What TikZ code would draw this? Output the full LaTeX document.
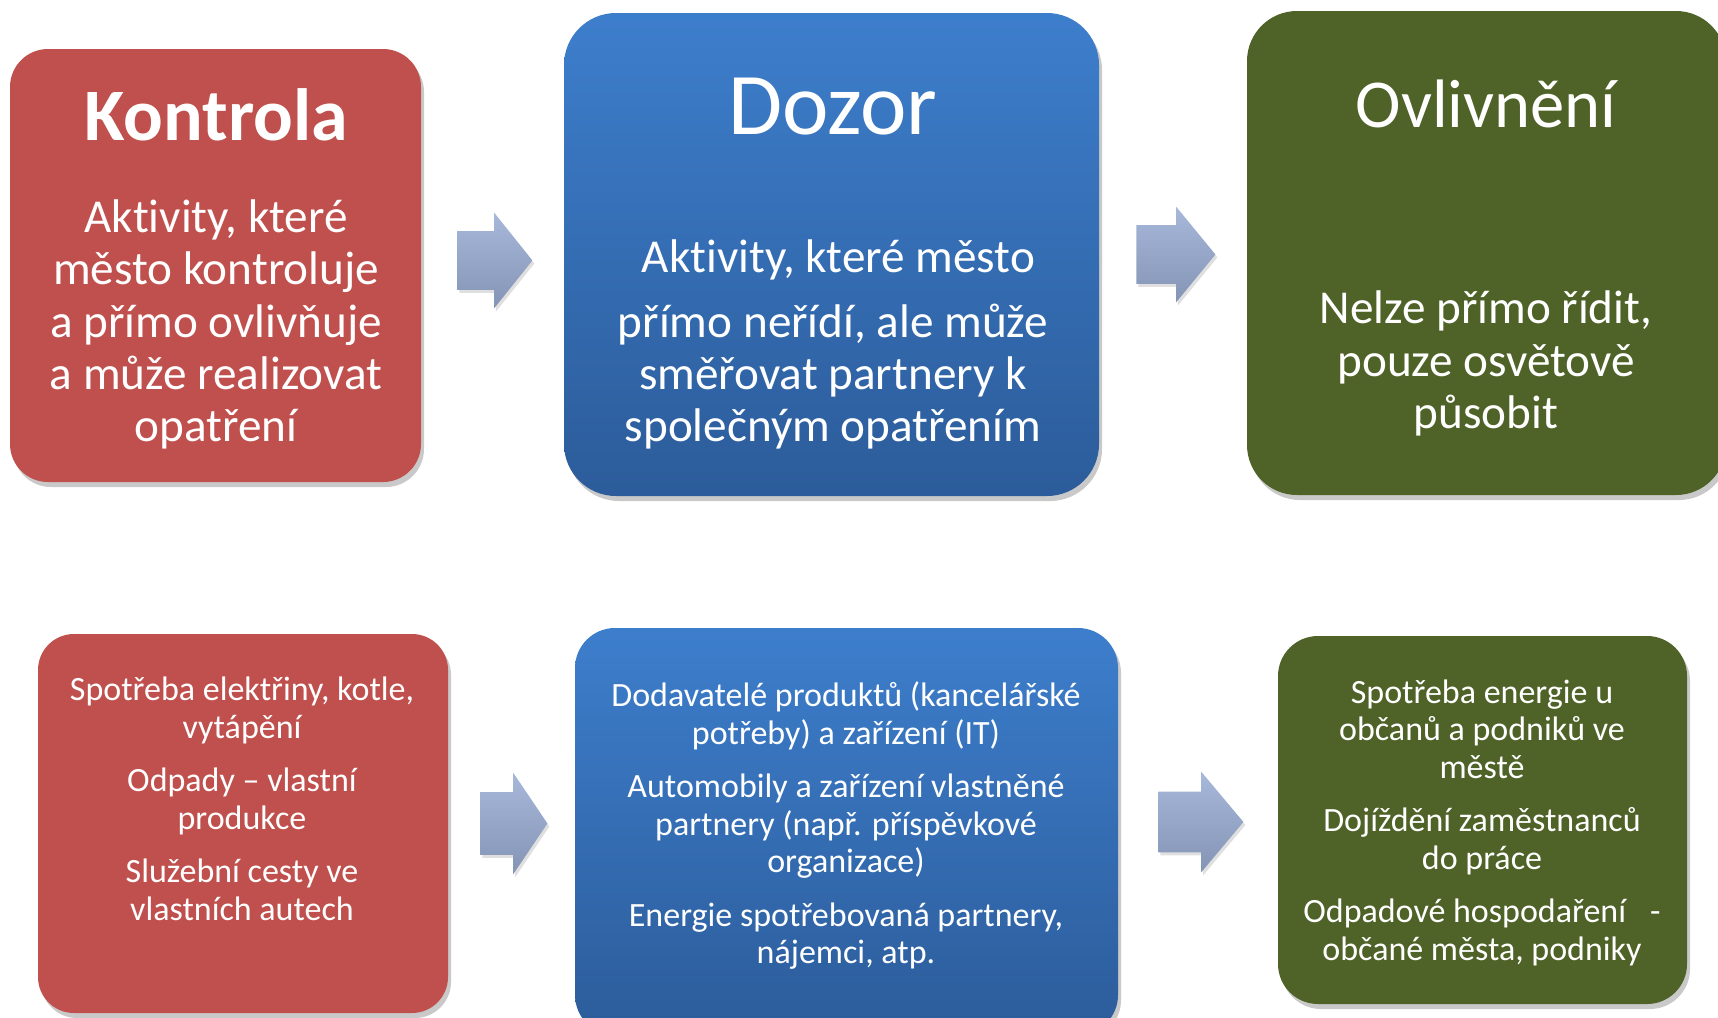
\documentclass[tikz,border=0pt]{standalone}
\usepackage{fontspec}
\setmainfont{Carlito}[Ligatures=NoCommon]
\usetikzlibrary{shapes.arrows,shadows}
\definecolor{boxred}{HTML}{C0504D}
\definecolor{boxgreen}{HTML}{4F6228}
\definecolor{bluetop}{HTML}{3D7ECC}
\definecolor{bluebot}{HTML}{2C5C9A}
\definecolor{arrtop}{HTML}{A7B8DA}
\definecolor{arrbot}{HTML}{8394B5}
\begin{document}
\begin{tikzpicture}[x=.5pt,y=-.5pt,
	box/.style={rectangle,inner sep=0pt,
		drop shadow={shadow xshift=1.5pt,shadow yshift=-2.5pt,opacity=.3,fill=black!70}},
	redbox/.style={box,fill=boxred},
	greenbox/.style={box,fill=boxgreen},
	bluebox/.style={box,top color=bluetop,bottom color=bluebot},
	arr/.style={single arrow,inner xsep=0pt,anchor=tail,top color=arrtop,bottom color=arrbot,
		drop shadow={shadow xshift=1pt,shadow yshift=-1.5pt,opacity=.25}},
	head/.style={text=white,anchor=base,inner sep=0pt},
	txt/.style={text=white,align=center,inner sep=0pt},
	big/.style={font=\fontsize{23.6}{26.2}\selectfont},
	small/.style={font=\fontsize{17}{18.75}\selectfont}]
	\useasboundingbox (0,0) rectangle (1718,1017);
	% top row
	\node[redbox,rounded corners=19pt,minimum width=205.5pt,minimum height=216.5pt] (kontrolaT) at (215.5,265.5) {};
	\node[bluebox,rounded corners=26pt,minimum width=267.5pt,minimum height=241.5pt] (dozorT) at (831.5,254.5) {};
	\node[greenbox,rounded corners=25pt,minimum width=239.5pt,minimum height=242pt] (ovlivT) at (1486.5,253) {};
	\node[head,font=\fontsize{37}{40}\selectfont\bfseries] (kontrolaH) at (216,140) {Kontrola};
	\node[head,font=\fontsize{44}{48}\selectfont] (dozorH) at (833,134) {Dozor};
	\node[head,font=\fontsize{34.3}{38}\selectfont] (ovlivH) at (1486,127) {Ovlivnění};
	\node[txt,big] (kontrolaTx) at (216,324.5) {Aktivity, které\\město kontroluje\\a přímo ovlivňuje\\a může realizovat\\opatření};
	\node[txt,big] (dozorTx) at (833,344.5) {\ Aktivity, které město\\[6.25pt]přímo neřídí, ale může\\směřovat partnery k\\společným opatřením};
	\node[txt,big] (ovlivTx) at (1486,363.5) {Nelze přímo řídit,\\pouze osvětově\\působit};
	\node[arr,inner ysep=14.5pt,minimum height=37.5pt,single arrow head extend=9.25pt,single arrow tip angle=102.7] (a1) at (457,260.5) {};
	\node[arr,inner ysep=14.5pt,minimum height=39.5pt,single arrow head extend=9.25pt,single arrow tip angle=101.2] (a2) at (1136,254.5) {};
	% bottom row
	\node[redbox,rounded corners=18pt,minimum width=205pt,minimum height=189.5pt] (kontrolaB) at (243,823.5) {};
	\node[bluebox,rounded corners=20pt,minimum width=271.5pt,minimum height=203.5pt] (dozorB) at (846.5,831.5) {};
	\node[greenbox,rounded corners=20pt,minimum width=204.5pt,minimum height=184pt] (ovlivB) at (1482.5,820) {};
	\node[txt,small] (kontrolaBx) at (242,799) {Spotřeba elektřiny, kotle,\\vytápění\\[8pt]Odpady -- vlastní\\produkce\\[8pt]Služební cesty ve\\vlastních autech};
	\node[txt,small] (dozorBx) at (846,825.75) {Dodavatelé produktů (kancelářské\\potřeby) a zařízení (IT)\\[8pt]Automobily a zařízení vlastněné\\partnery (např. příspěvkové\\organizace)\\[8pt]Energie spotřebovaná partnery,\\nájemci, atp.};
	\node[txt,small] (ovlivBx) at (1482,822.75) {Spotřeba energie u\\občanů a podniků ve\\městě\\[8pt]Dojíždění zaměstnanců\\do práce\\[8pt]Odpadové hospodaření\hspace{12pt}-\\občané města, podniky};
	\node[arr,inner ysep=15.5pt,minimum height=33.5pt,single arrow head extend=9.75pt,single arrow tip angle=112] (a3) at (480,823.5) {};
	\node[arr,inner ysep=15pt,minimum height=42.5pt,single arrow head extend=10pt,single arrow tip angle=100] (a4) at (1158,822) {};
\end{tikzpicture}
\end{document}
